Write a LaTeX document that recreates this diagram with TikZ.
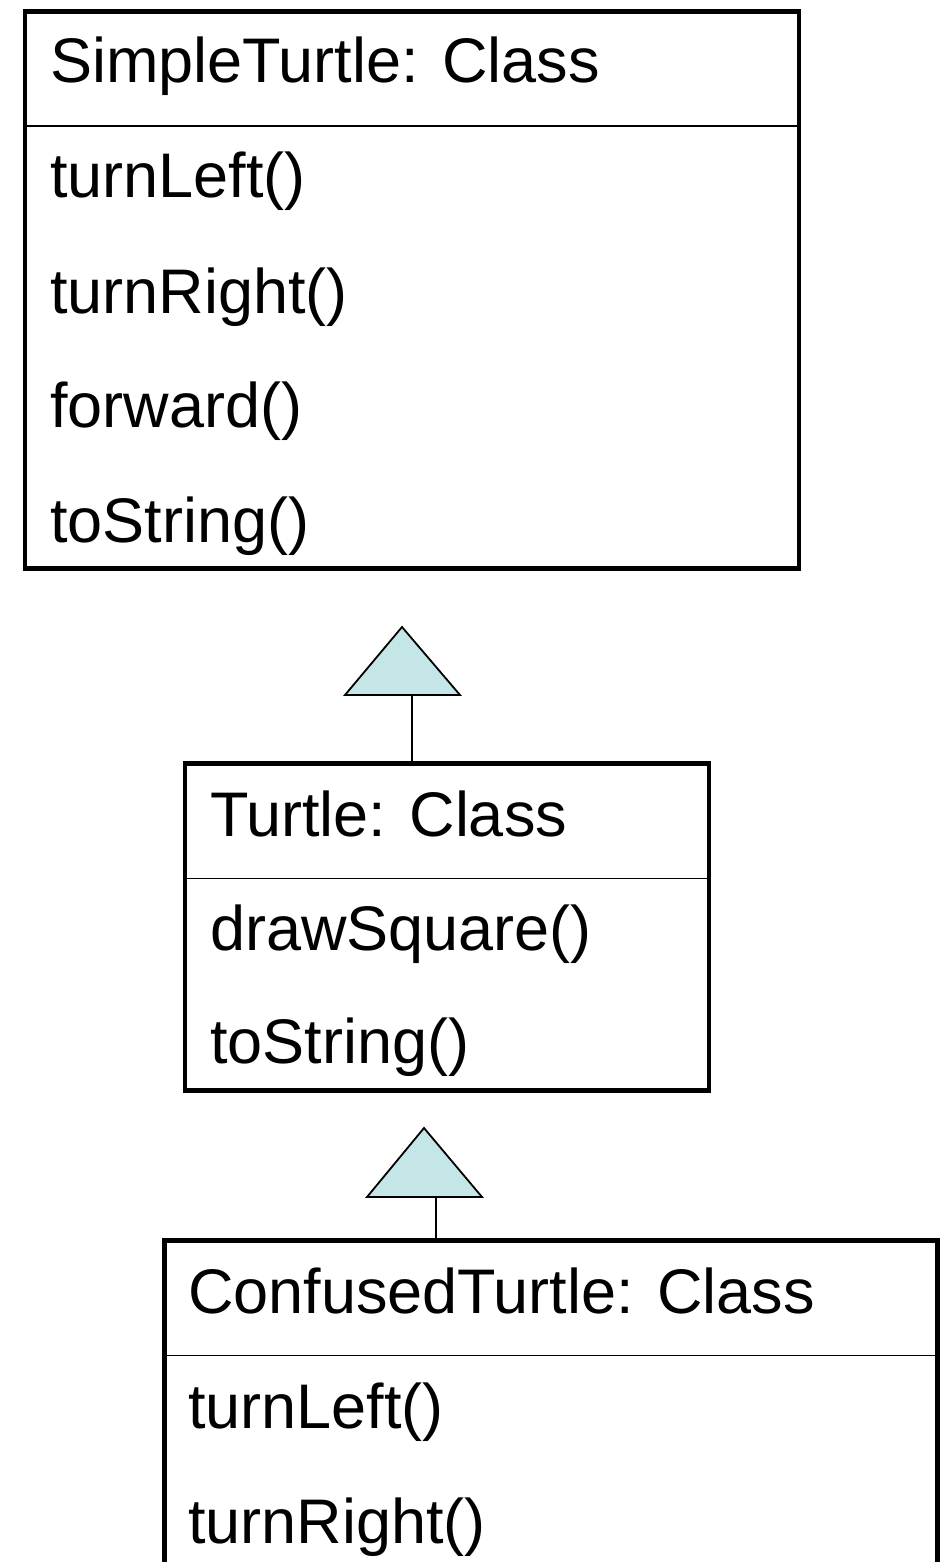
\documentclass[tikz,border=0pt]{standalone}
\usepackage{fontspec}
\setmainfont{Liberation Sans}
\definecolor{trifill}{RGB}{196,230,231}
\tikzset{
  classbox/.style={draw=black, line width=4.5pt, inner sep=0pt, outer sep=0pt, anchor=north west},
  lbl/.style={anchor=base west, inner sep=0pt, outer sep=0pt, font=\fontsize{63}{75}\selectfont},
  divider/.style={draw=black, line width=1.8pt},
  inherit/.style={draw=black, line width=1.8pt, fill=trifill, line join=miter},
  stem/.style={draw=black, line width=1.8pt}
}
\begin{document}
\begin{tikzpicture}[x=1pt, y=-1pt]
\useasboundingbox (0,0) rectangle (947,1562);
\clip (0,0) rectangle (947,1562);
\fill[white] (0,0) rectangle (947,1562);

% SimpleTurtle
\node[classbox, minimum width=774pt, minimum height=557pt] (box1) at (25,11.5) {};
\draw[divider] (box1.west |- 0,126) -- (box1.east |- 0,126);
\node[lbl] (b1h) at (50,83) {SimpleTurtle: Class};
\node[lbl] (b1m1) at (50,198) {turnLeft()};
\node[lbl] (b1m2) at (50,313) {turnRight()};
\node[lbl] (b1m3) at (50,427) {forward()};
\node[lbl] (b1m4) at (50,542) {toString()};

% Turtle
\node[classbox, minimum width=524pt, minimum height=327pt] (box2) at (185,763.5) {};
\draw[divider] (box2.west |- 0,878.5) -- (box2.east |- 0,878.5);
\node[lbl] (b2h) at (210,836) {Turtle: Class};
\node[lbl] (b2m1) at (210,950) {drawSquare()};
\node[lbl] (b2m2) at (210,1063) {toString()};

% ConfusedTurtle
\node[classbox, minimum width=773pt, minimum height=400pt] (box3) at (164.5,1240.5) {};
\draw[divider] (box3.west |- 0,1355.5) -- (box3.east |- 0,1355.5);
\node[lbl] (b3h) at (188,1313) {ConfusedTurtle: Class};
\node[lbl] (b3m1) at (188,1428) {turnLeft()};
\node[lbl] (b3m2) at (188,1543) {turnRight()};

% inheritance Turtle -> SimpleTurtle
\coordinate (t1a) at (402,627);
\coordinate (t1l) at (345,695);
\coordinate (t1r) at (460,695);
\coordinate (t1s) at (412,695);
\draw[stem] (box2.north -| t1s) -- (t1s);
\draw[inherit] (t1l) -- (t1a) -- (t1r) -- cycle;

% inheritance ConfusedTurtle -> Turtle
\coordinate (t2a) at (424,1128);
\coordinate (t2l) at (367,1197);
\coordinate (t2r) at (482,1197);
\coordinate (t2s) at (436,1197);
\draw[stem] (box3.north -| t2s) -- (t2s);
\draw[inherit] (t2l) -- (t2a) -- (t2r) -- cycle;
\end{tikzpicture}
\end{document}
